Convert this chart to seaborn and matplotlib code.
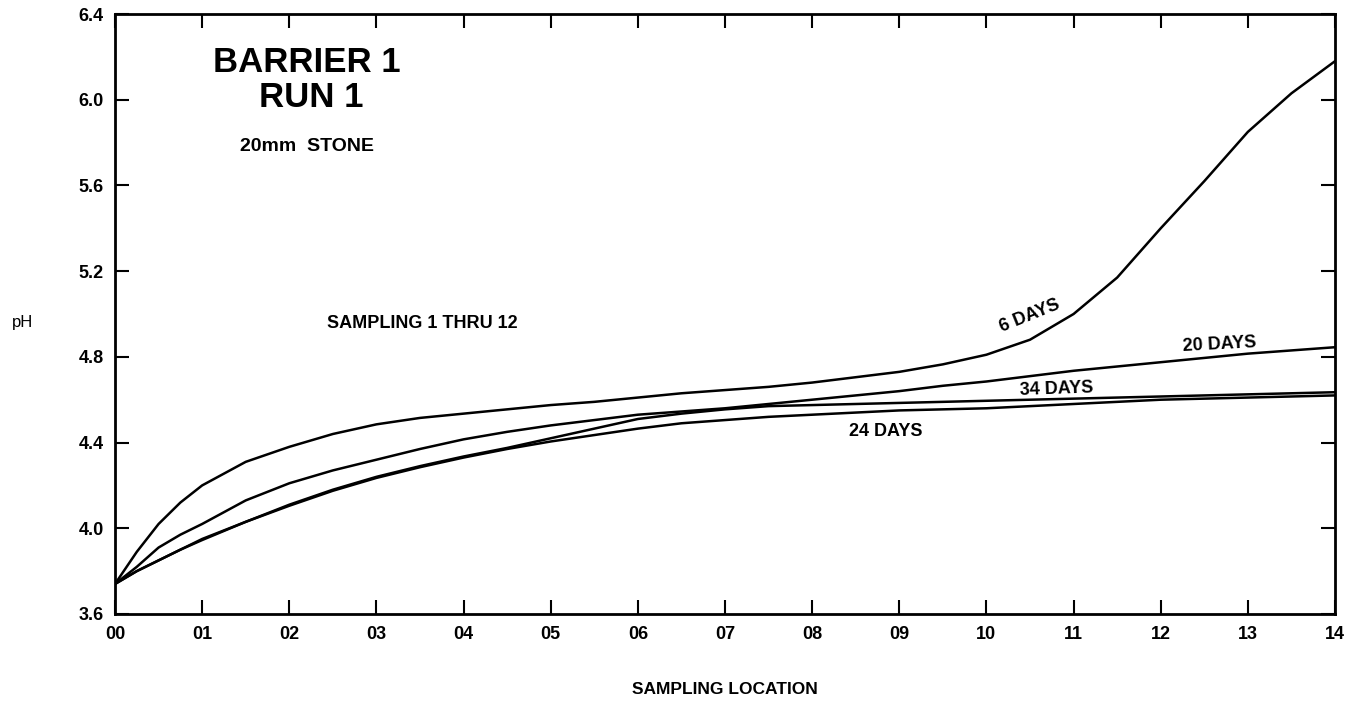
import matplotlib
matplotlib.use("Agg")
import matplotlib.pyplot as plt
import seaborn as sns
import numpy as np
import pandas as pd

# pH at each sampling location
location = [0, 0.25, 0.5, 0.75, 1, 1.5, 2, 2.5, 3, 3.5, 4, 4.5, 5, 5.5, 6, 6.5,
            7, 7.5, 8, 8.5, 9, 9.5, 10, 10.5, 11, 11.5, 12, 12.5, 13, 13.5, 14]

ph_6_days = [3.74, 3.89, 4.02, 4.12, 4.20, 4.31, 4.38, 4.44, 4.485, 4.515, 4.535, 4.555,
             4.575, 4.59, 4.61, 4.63, 4.645, 4.66, 4.68, 4.705, 4.73, 4.765, 4.81,
             4.88, 5.00, 5.17, 5.40, 5.62, 5.85, 6.03, 6.18]
ph_20_days = [3.74, 3.82, 3.91, 3.97, 4.02, 4.13, 4.21, 4.27, 4.32, 4.37, 4.415, 4.45,
              4.48, 4.505, 4.53, 4.545, 4.56, 4.58, 4.60, 4.62, 4.64, 4.665, 4.685,
              4.71, 4.735, 4.755, 4.775, 4.795, 4.815, 4.83, 4.845]
ph_34_days = [3.74, 3.80, 3.85, 3.90, 3.95, 4.03, 4.11, 4.18, 4.24, 4.29, 4.335, 4.375,
              4.42, 4.465, 4.51, 4.535, 4.555, 4.57, 4.575, 4.58, 4.585, 4.59, 4.595,
              4.60, 4.605, 4.61, 4.615, 4.62, 4.625, 4.63, 4.635]
ph_24_days = [3.74, 3.80, 3.85, 3.90, 3.945, 4.03, 4.105, 4.175, 4.235, 4.285, 4.33,
              4.37, 4.405, 4.435, 4.465, 4.49, 4.505, 4.52, 4.53, 4.54, 4.55, 4.555,
              4.56, 4.57, 4.58, 4.59, 4.60, 4.605, 4.61, 4.615, 4.62]

x_ticks = list(range(0, 15))
x_tick_labels = [f"{v:02d}" for v in x_ticks]
y_ticks = [3.6, 4.0, 4.4, 4.8, 5.2, 5.6, 6.0, 6.4]

sns.set_theme(style="ticks", rc={"text.color": "black", "axes.labelcolor": "black",
                                 "xtick.color": "black", "ytick.color": "black"})
plt.rcParams['font.family'] = ['Liberation Sans', 'DejaVu Sans']

fig = plt.figure(figsize=(13.53, 7.02), dpi=100)
ax = fig.add_axes([0.085, 0.1254, 0.9017, 0.8546])

for vals in [ph_6_days, ph_20_days, ph_34_days, ph_24_days]:
    sns.lineplot(x=location, y=vals, ax=ax, color='black', linewidth=1.8)

ax.set_xlim(0, 14)
ax.set_ylim(3.6, 6.4)
ax.set_xticks(x_ticks)
ax.set_xticklabels(x_tick_labels)
ax.set_yticks(y_ticks)
ax.set_yticklabels([f"{v:.1f}" for v in y_ticks])
ax.tick_params(direction='in', length=10, width=1.5, top=True, right=True,
               labelsize=13, colors='black')
ax.tick_params(axis='x', pad=9)
ax.tick_params(axis='y', pad=8)
for lab in ax.get_xticklabels() + ax.get_yticklabels():
    lab.set_fontweight('bold')
for sp in ax.spines.values():
    sp.set_linewidth(2)
    sp.set_color('black')

ax.set_xlabel("SAMPLING LOCATION", fontsize=12.5, fontweight='bold', labelpad=28, color='black')
ax.set_ylabel("")
fig.text(0.017, 0.541, "pH", fontsize=12, va='center', ha='center', color='black')

# titles and annotations
ax.text(2.2, 6.175, "BARRIER 1", fontsize=25, fontweight='bold', ha='center', va='center')
ax.text(2.25, 6.01, "RUN 1", fontsize=25, fontweight='bold', ha='center', va='center')
ax.text(2.2, 5.78, "20mm  STONE", fontsize=14, fontweight='bold', ha='center', va='center')
ax.text(3.53, 4.955, "SAMPLING 1 THRU 12", fontsize=13, fontweight='bold', ha='center', va='center')

ax.text(10.5, 4.99, "6 DAYS", fontsize=13, fontweight='bold', ha='center', va='center', rotation=22)
ax.text(12.67, 4.855, "20 DAYS", fontsize=13, fontweight='bold', ha='center', va='center', rotation=3)
ax.text(10.8, 4.65, "34 DAYS", fontsize=13, fontweight='bold', ha='center', va='center', rotation=2)
ax.text(8.85, 4.45, "24 DAYS", fontsize=13, fontweight='bold', ha='center', va='center')

fig.savefig("out.png", dpi=100)
